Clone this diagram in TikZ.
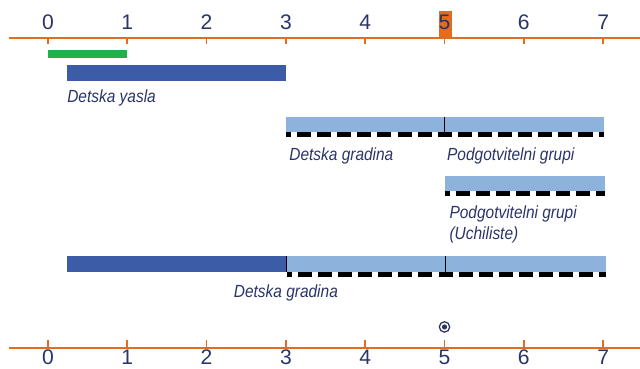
\documentclass[tikz,border=0pt]{standalone}
\usepackage{fontspec}
\setmainfont{Liberation Sans}
\newfontfamily\lblfont[FakeStretch=0.88]{Liberation Sans}
\usetikzlibrary{calc,arrows.meta}
\definecolor{axisorange}{HTML}{E36C1F}
\definecolor{barnavy}{HTML}{3C5CA8}
\definecolor{barlight}{HTML}{8DB3DC}
\definecolor{bargreen}{HTML}{22B04B}
\definecolor{textnavy}{HTML}{2A3468}
\tikzset{
  axis/.style={axisorange,line width=1.6pt},
  tick/.style={axisorange,line width=1.2pt},
  num/.style={textnavy,inner sep=0pt,font=\fontsize{15}{18}\selectfont},
  lbl/.style={textnavy,inner sep=0pt,anchor=west,font=\lblfont\itshape\fontsize{12.5}{15}\selectfont},
  dotline/.style={black,line width=3pt,dash pattern=on 10pt off 4.3pt,dash phase=6.4pt},
  divider/.style={black,line width=0.8pt}
}

\begin{document}
\begin{tikzpicture}[>=Latex,x=1.9825cm,y=-0.025cm]
  \useasboundingbox (-0.605,0) rectangle (7.465,369);
  % Top scale
  \fill[axisorange] (4.93,11) rectangle (5.09,38);
  \draw[axis] (-0.49,38)--(7.465,38);
  \foreach \i in {0,...,7}{
    \draw[tick] (\i,38)--(\i,44);
    \node[num] (t\i) at (\i,22){\i};
  }
  % Yasla
  \fill[bargreen] (0,50.5) rectangle (1,58.5);
  \fill[barnavy] (0.24,65) rectangle (3,81);
  \node[lbl] (yasla) at (0.24,98){Detska yasla};
  % Gradina + podgotvitelni grupi
  \fill[barlight] (3,117) rectangle (7.01,132);
  \draw[divider] (5,117)--(5,132);
  \draw[dotline] (3,134.5)--(7.01,134.5);
  \node[lbl] (gradina) at (3.04,156){Detska gradina};
  \node[lbl] (podg) at (5.03,156){Podgotvitelni grupi};
  % Uchiliste
  \fill[barlight] (5,176) rectangle (7.02,191);
  \draw[dotline] (5,193.5)--(7.02,193.5);
  \node[lbl] (podgu) at (5.06,214){Podgotvitelni grupi};
  \node[lbl] (uchil) at (5.06,235){(Uchiliste)};
  % Combined row
  \fill[barnavy] (0.24,256) rectangle (3.01,272);
  \fill[barlight] (3.01,256) rectangle (7.03,272);
  \draw[divider] (3.01,256)--(3.01,272);
  \draw[divider] (5.01,256)--(5.01,272);
  \draw[dotline] (3.01,274.5)--(7.03,274.5);
  \node[lbl,anchor=center] (gradina2) at (3,293){Detska gradina};
  % Marker
  \draw[textnavy,line width=0.9pt] (5,327) circle[radius=0.13cm];
  \fill[textnavy] (5,327) circle[radius=0.065cm];
  % Bottom scale
  \draw[axis] (-0.49,348)--(7.465,348);
  \foreach \i in {0,...,7}{
    \draw[tick] (\i,340)--(\i,348);
    \node[num] (b\i) at (\i,357.5){\i};
  }
\end{tikzpicture}
\end{document}
